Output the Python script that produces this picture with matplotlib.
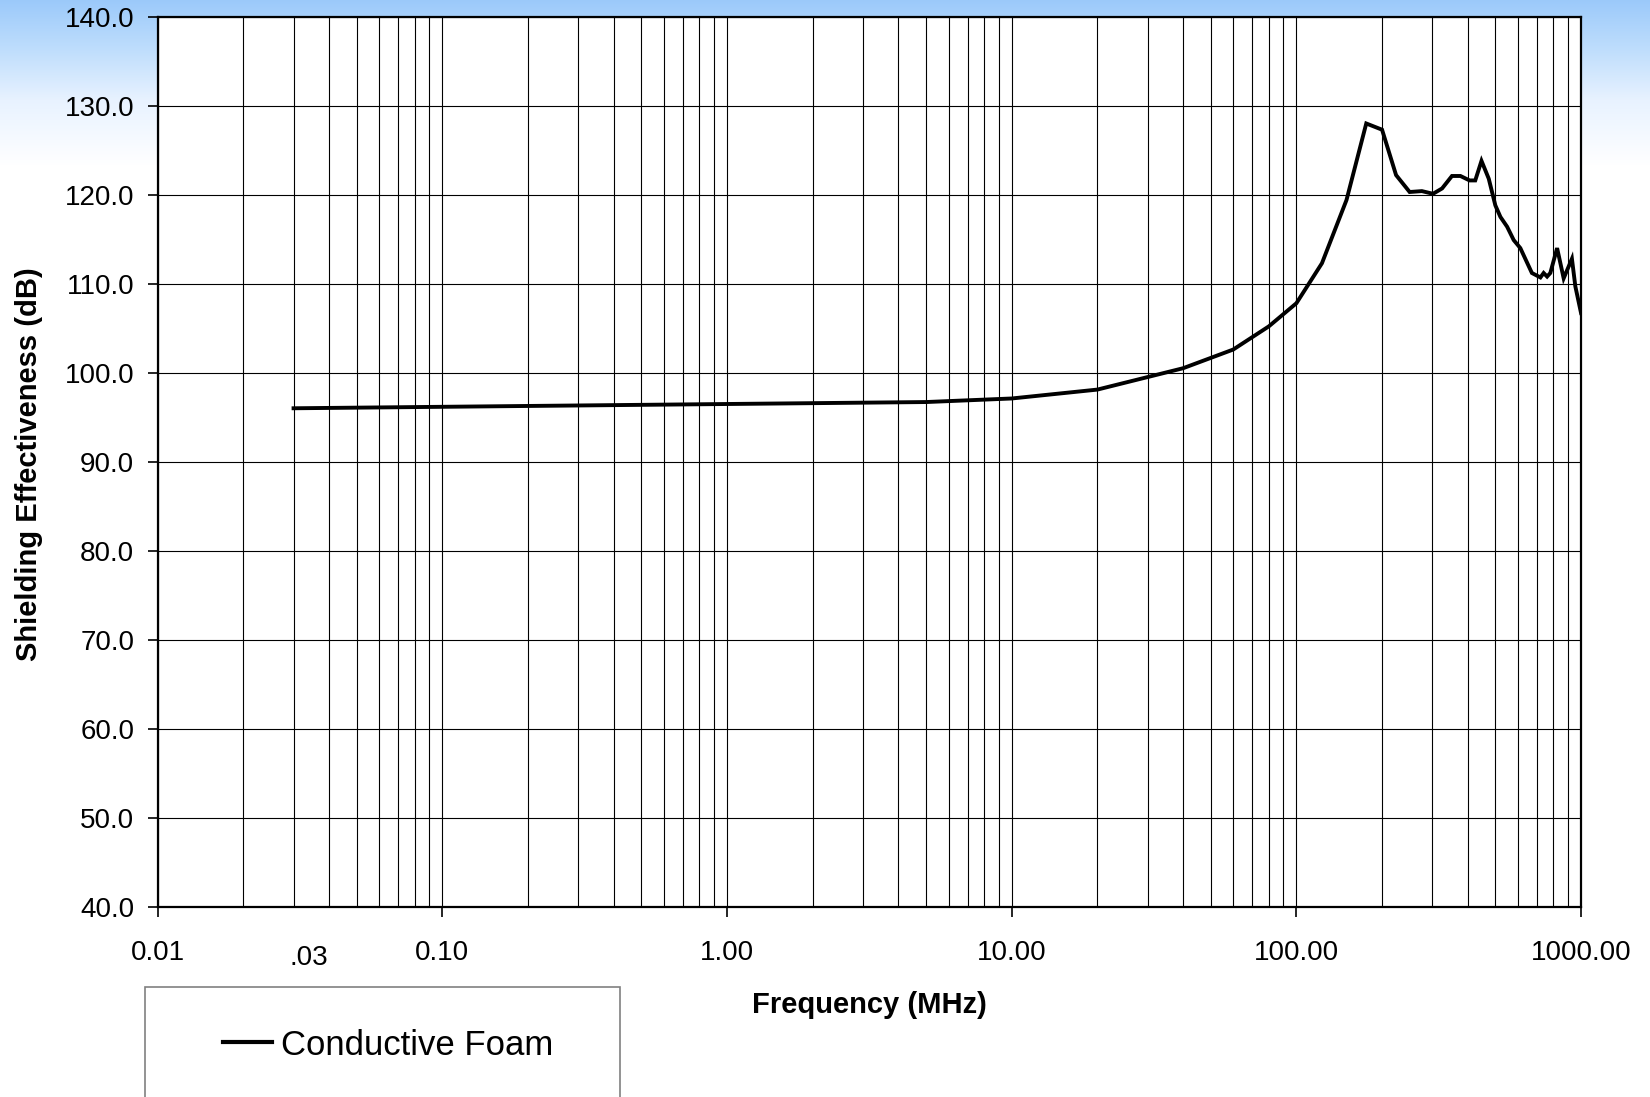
import numpy as np
import matplotlib
matplotlib.use("Agg")
import matplotlib.pyplot as plt
from matplotlib.lines import Line2D
from matplotlib.patches import Rectangle
from matplotlib.ticker import FixedLocator, NullFormatter

plt.rcParams["font.family"] = ["Liberation Sans", "DejaVu Sans"]

# data
freq = [0.03, 5, 10, 20, 40, 60, 80, 100, 123, 150, 176, 200, 224, 250, 276,
        302, 325, 352, 377, 406, 425, 447, 474, 500, 521, 550, 580, 612, 637,
        672, 720, 739, 760, 780, 824, 869, 929, 955, 1000]
se = [96.0, 96.7, 97.1, 98.1, 100.5, 102.6, 105.2, 107.8, 112.3, 119.4, 128.0,
      127.3, 122.2, 120.3, 120.4, 120.1, 120.7, 122.1, 122.1, 121.6, 121.6,
      123.8, 121.8, 118.8, 117.5, 116.4, 114.9, 114.0, 112.8, 111.2, 110.7,
      111.2, 110.8, 111.2, 114.0, 110.6, 112.8, 109.7, 106.7]

major_ticks = [0.01, 0.1, 1, 10, 100, 1000]
major_labels = ["0.01", "0.10", "1.00", "10.00", "100.00", "1000.00"]
y_ticks = np.arange(40, 141, 10)

fig = plt.figure(figsize=(16.5, 10.97), dpi=100)

# gradient backdrop at the top of the slide
bg = fig.add_axes([0, 0, 1, 1], zorder=-10)
rows = np.linspace(0, 1, 1097)
stops = [0.0, 50 / 1097, 100 / 1097, 165 / 1097, 1.0]
r = np.interp(rows, stops, [0.61, 0.75, 0.91, 1.0, 1.0])
g = np.interp(rows, stops, [0.79, 0.87, 0.95, 1.0, 1.0])
b = np.interp(rows, stops, [0.98, 0.99, 1.0, 1.0, 1.0])
grad = np.stack([r, g, b], axis=1)[:, None, :]
bg.imshow(grad, aspect="auto", extent=[0, 1, 0, 1])
bg.axis("off")

ax = fig.add_axes([0.0956, 0.1735, 0.8626, 0.8113])
ax.set_facecolor("white")
ax.plot(freq, se, color="black", lw=2.8, label="Conductive Foam", zorder=3,
        solid_joinstyle="miter")

ax.set_xscale("log")
ax.set_xlim(0.01, 1000)
ax.set_ylim(40, 140)

ax.xaxis.set_major_locator(FixedLocator(major_ticks))
ax.set_xticklabels(major_labels)
minor = [m * 10.0 ** e for e in range(-2, 3) for m in range(2, 10)]
ax.xaxis.set_minor_locator(FixedLocator(minor))
ax.xaxis.set_minor_formatter(NullFormatter())
ax.set_yticks(y_ticks)
ax.set_yticklabels([f"{v:.1f}" for v in y_ticks])

ax.grid(True, which="both", axis="x", color="black", lw=0.8)
ax.grid(True, which="major", axis="y", color="black", lw=0.8)
ax.set_axisbelow(True)

ax.tick_params(axis="both", which="major", direction="out", length=7,
               width=1.2, labelsize=20, color="black")
ax.tick_params(axis="x", which="major", pad=17)
ax.tick_params(axis="y", which="major", pad=10)
ax.tick_params(axis="x", which="minor", length=0)
for s in ax.spines.values():
    s.set_linewidth(1.6)

# extra ".03" label where the curve starts
ax.text(0.034, -0.058, ".03", transform=ax.get_xaxis_transform(),
        ha="center", va="center", fontsize=20)

ax.set_xlabel("Frequency (MHz)", fontsize=21, fontweight="bold")
ax.xaxis.set_label_coords(0.5, -0.11)
ax.xaxis.label.set_verticalalignment("center")
ax.set_ylabel("Shielding Effectiveness (dB)", fontsize=21, fontweight="bold")
ax.yaxis.set_label_coords(-0.0908, 0.497)
ax.yaxis.label.set_verticalalignment("center")

# legend box, cut off by the bottom edge
fig.patches.append(Rectangle((0.0879, -0.05), 0.288, 0.1503,
                             transform=fig.transFigure, fill=False,
                             edgecolor="#808080", lw=1.2))
handle = Line2D([], [], color="black", lw=3)
fig.legend([handle], ["Conductive Foam"], loc="center left",
           bbox_to_anchor=(0.1248, 0.0474), frameon=False, fontsize=25,
           handlelength=1.41, handletextpad=0.26, borderpad=0)

fig.savefig("out.png", dpi=100)
